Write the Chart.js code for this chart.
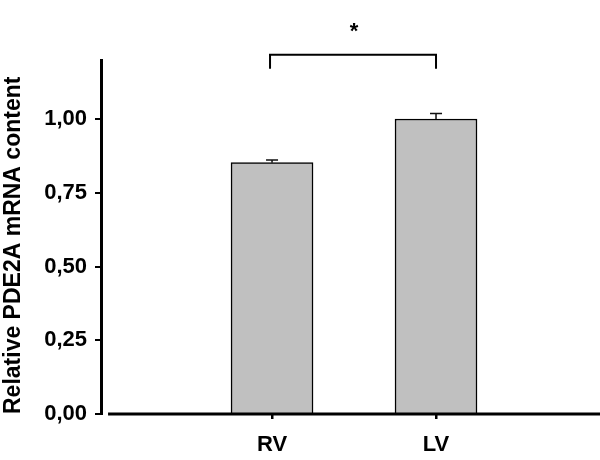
<!DOCTYPE html>
<html lang="en">
<head>
<meta charset="UTF-8">
<title>PDE2A mRNA</title>
<script src="https://cdn.jsdelivr.net/npm/chart.js"></script>
<style>
    body { margin: 0; background: #fff; }
    .wrap { width: 600px; height: 460px; }
</style>
</head>
<body>
<div class="wrap"><canvas id="chart"></canvas></div>
<script>
// data
const categories = ['RV', 'LV'];
const positions = [1, 2];
const values = [0.852, 1.000];
const errors = [0.009, 0.019];
const yTicks = [0, 0.25, 0.5, 0.75, 1.0];
const yTickLabels = ['0,00', '0,25', '0,50', '0,75', '1,00'];
const bracketLevel = [1.17, 1.218];
const starLevel = 1.295;
const significance = '*';

Chart.defaults.font.family = "'Liberation Sans', Arial, sans-serif";
Chart.defaults.color = '#000';

// x axis line, error bars and the significance bracket
const extras = {
    id: 'extras',
    afterDatasetsDraw(chart) {
        const { ctx, scales: { x, y } } = chart;
        ctx.save();
        ctx.strokeStyle = '#000';
        ctx.lineWidth = 3;
        ctx.beginPath();
        ctx.moveTo(x.getPixelForValue(0), y.getPixelForValue(0));
        ctx.lineTo(x.getPixelForValue(3), y.getPixelForValue(0));
        ctx.stroke();

        ctx.lineWidth = 1.5;
        ctx.strokeStyle = '#111';
        positions.forEach((p, i) => {
            const px = x.getPixelForValue(p);
            const base = y.getPixelForValue(values[i]);
            const top = y.getPixelForValue(values[i] + errors[i]);
            ctx.beginPath();
            ctx.moveTo(px, base);
            ctx.lineTo(px, top);
            ctx.moveTo(px - 6, top);
            ctx.lineTo(px + 6, top);
            ctx.stroke();
        });

        ctx.lineWidth = 2;
        ctx.strokeStyle = '#000';
        const bx1 = x.getPixelForValue(positions[0]) - 2;
        const bx2 = x.getPixelForValue(positions[1]);
        const lo = y.getPixelForValue(bracketLevel[0]);
        const hi = y.getPixelForValue(bracketLevel[1]);
        ctx.beginPath();
        ctx.moveTo(bx1, lo);
        ctx.lineTo(bx1, hi);
        ctx.lineTo(bx2, hi);
        ctx.lineTo(bx2, lo);
        ctx.stroke();

        ctx.fillStyle = '#000';
        ctx.font = "bold 22px 'Liberation Sans', Arial, sans-serif";
        ctx.textAlign = 'center';
        ctx.textBaseline = 'middle';
        ctx.fillText(significance, x.getPixelForValue((positions[0] + positions[1]) / 2), y.getPixelForValue(starLevel));
        ctx.restore();
    }
};

new Chart(document.getElementById('chart'), {
    type: 'bar',
    data: {
        datasets: [{
            data: positions.map((p, i) => ({ x: p, y: values[i] })),
            backgroundColor: '#c0c0c0',
            borderColor: '#000',
            borderWidth: 1.5,
            barThickness: 82
        }]
    },
    options: {
        responsive: true,
        maintainAspectRatio: false,
        animation: false,
        layout: { padding: { top: 60, right: 0, bottom: 0, left: 0 } },
        plugins: { legend: { display: false }, tooltip: { enabled: false } },
        scales: {
            x: {
                type: 'linear',
                offset: false,
                min: -0.043,
                max: 3,
                afterBuildTicks: s => { s.ticks = positions.map(v => ({ value: v })); },
                afterFit: s => { s.height = 46; },
                ticks: {
                    callback: v => categories[positions.indexOf(v)],
                    font: { size: 22, weight: 'bold' },
                    padding: 13,
                    maxRotation: 0
                },
                grid: { drawOnChartArea: false, offset: false, color: '#000', lineWidth: 2.5, tickLength: 5 },
                border: { display: false }
            },
            y: {
                min: 0,
                max: 1.2,
                afterBuildTicks: s => { s.ticks = yTicks.map(v => ({ value: v })); },
                afterFit: s => { s.width = 101; },
                ticks: {
                    callback: v => yTickLabels[yTicks.indexOf(v)],
                    font: { size: 22, weight: 'bold' },
                    padding: 8
                },
                grid: { drawOnChartArea: false, color: '#000', lineWidth: 2, tickLength: 6 },
                border: { display: true, color: '#000', width: 3 },
                title: {
                    display: true,
                    text: 'Relative PDE2A mRNA content',
                    align: 'start',
                    font: { size: 23, weight: 'bold' },
                    padding: 0
                }
            }
        }
    },
    plugins: [extras]
});
</script>
</body>
</html>
